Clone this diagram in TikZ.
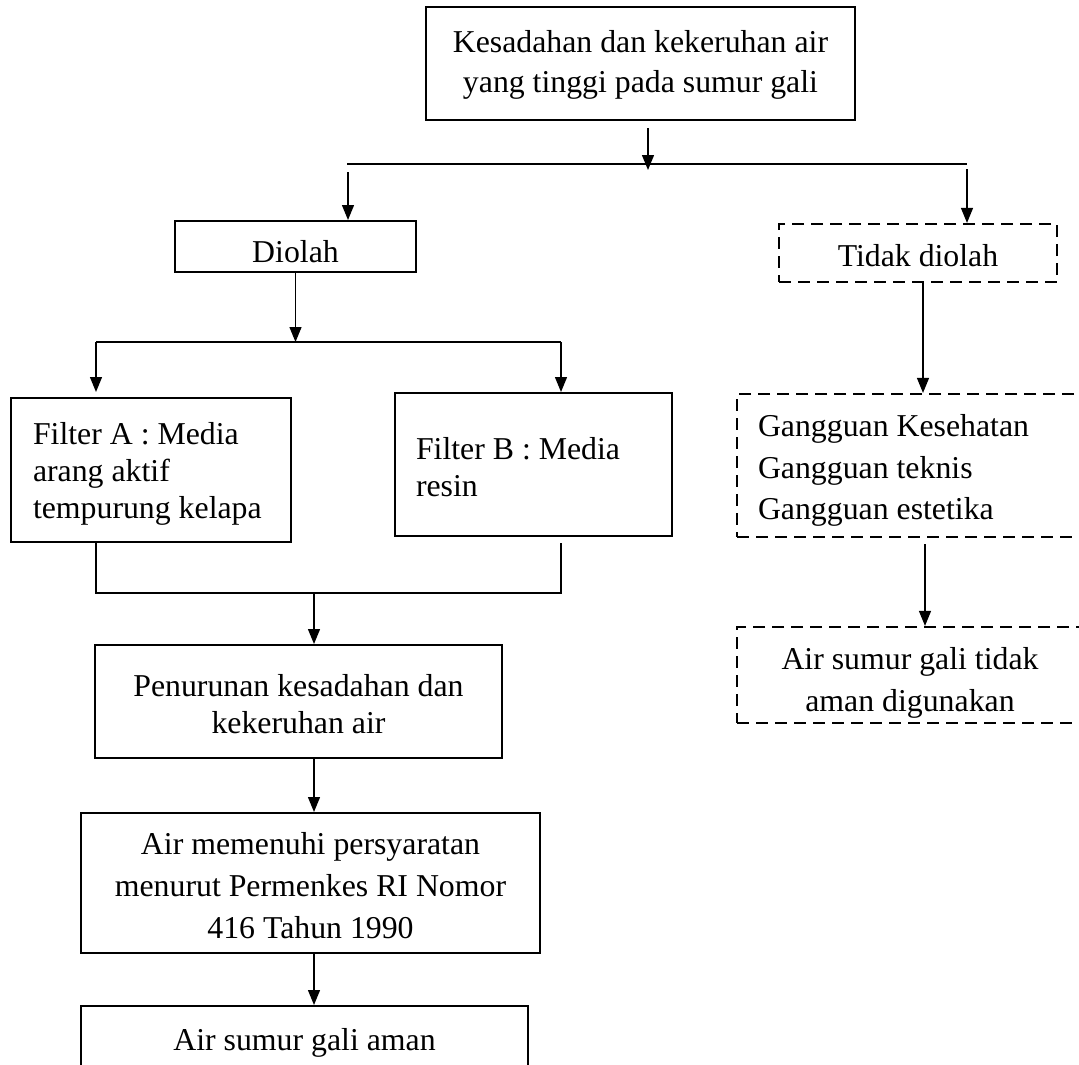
\documentclass[tikz,border=0pt]{standalone}
\usepackage{fontspec}
\setmainfont{Liberation Serif}
\usetikzlibrary{arrows.meta,calc}
\newcommand{\lowc}[3]{\raisebox{-#1}[\height][\depth]{\parbox{#2}{\centering #3}}}
\newcommand{\lowl}[3]{\raisebox{-#1}[\height][\depth]{\parbox{#2}{\raggedright #3}}}
\begin{document}
\begin{tikzpicture}[x=1pt,y=-1pt,
  box/.style={draw,line width=2pt,rectangle,inner sep=0pt,font=\fontsize{31.8}{40}\selectfont},
  dbox/.style={box,dash pattern=on 12pt off 7pt,line width=2.2pt},
  conn/.style={line width=1.3pt},
  arr/.style={conn,-{Triangle[width=12pt,length=15pt]}}]
\clip (0,0) rectangle (1079,1065);
\fill[white] (0,0) rectangle (1079,1065);

% nodes
\node[box,minimum width=429pt,minimum height=113pt] (top) at (640.5,63.5)
  {\lowc{1pt}{400pt}{Kesadahan dan kekeruhan air\\yang tinggi pada sumur gali}};
\node[box,minimum width=241pt,minimum height=51pt] (diolah) at (295.5,246.5)
  {\raisebox{-5pt}[\height][\depth]{Diolah}};
\node[dbox,minimum width=278pt,minimum height=58pt] (tidak) at (918,253)
  {\raisebox{-3pt}[\height][\depth]{Tidak diolah}};
\node[box,minimum width=280pt,minimum height=144pt,
  font=\fontsize{31.8}{37}\selectfont] (filA) at (151,470)
  {\lowl{4pt}{236pt}{Filter A : Media\\arang aktif\\tempurung kelapa}};
\node[box,minimum width=277pt,minimum height=143pt,
  font=\fontsize{31.8}{37}\selectfont] (filB) at (533.5,464.5)
  {\lowl{3pt}{235pt}{Filter B : Media\\resin}};
\node[box,minimum width=407pt,minimum height=113pt,
  font=\fontsize{31.8}{37}\selectfont] (pen) at (298.5,701.5)
  {\lowc{3pt}{380pt}{Penurunan kesadahan dan\\kekeruhan air}};
\node[box,minimum width=459pt,minimum height=140pt,
  font=\fontsize{31.8}{42}\selectfont] (mem) at (310.5,883)
  {\lowc{3pt}{440pt}{Air memenuhi persyaratan\\menurut Permenkes RI Nomor\\416 Tahun 1990}};
\node[box,minimum width=447pt,minimum height=64pt] (aman) at (304.5,1038)
  {\raisebox{-5pt}[\height][\depth]{Air sumur gali aman}};
\node[dbox,minimum width=363pt,minimum height=143pt,
  font=\fontsize{31.8}{41.5}\selectfont] (gang) at (918.5,465.5)
  {\lowl{5pt}{321pt}{Gangguan Kesehatan\\Gangguan teknis\\Gangguan estetika}};
\node[dbox,minimum width=346pt,minimum height=96pt,
  font=\fontsize{31.8}{42}\selectfont] (tdkaman) at (910,675)
  {\lowc{8pt}{320pt}{Air sumur gali tidak\\aman digunakan}};

% junction coordinates
\coordinate (hl) at (347,164);
\coordinate (hr) at (967,164);
\coordinate (j1) at (648,164);
\coordinate (c2l) at (96,342);
\coordinate (c2r) at (561,342);
\coordinate (c3l) at (96,593);
\coordinate (c3r) at (561,593);
\coordinate (j3) at (314,593);
\coordinate (xg) at (923,300);
\coordinate (xh) at (925,300);

% connectors
\draw[conn] (hl) -- (hr);
\draw[arr] ($(top.south -| j1)+(0,7)$) -- ($(j1)+(0,6)$);
\draw[arr] ($(hl)+(1,8)$) -- ($(hl |- diolah.north)+(1,0)$);
\draw[arr] ($(hr)+(0,5)$) -- (hr |- tidak.north);

\draw[arr] (diolah.south) -- (diolah.south |- c2l);
\draw[conn] (c2l) -- (c2r);
\draw[arr] (c2l) -- (c2l |- filB.north);
\draw[arr] (c2r) -- (c2r |- filB.north);

\draw[conn] (c3l |- filA.south) -- (c3l) -- (c3r) -- (c3r |- filA.south);
\draw[arr] (j3) -- (j3 |- pen.north);
\draw[arr] (j3 |- pen.south) -- (j3 |- mem.north);
\draw[arr] (j3 |- mem.south) -- (j3 |- aman.north);

\draw[arr] (xg |- tidak.south) -- (xg |- gang.north);
\draw[arr] ($(xh |- gang.south)+(0,6)$) -- (xh |- tdkaman.north);
\end{tikzpicture}
\end{document}
